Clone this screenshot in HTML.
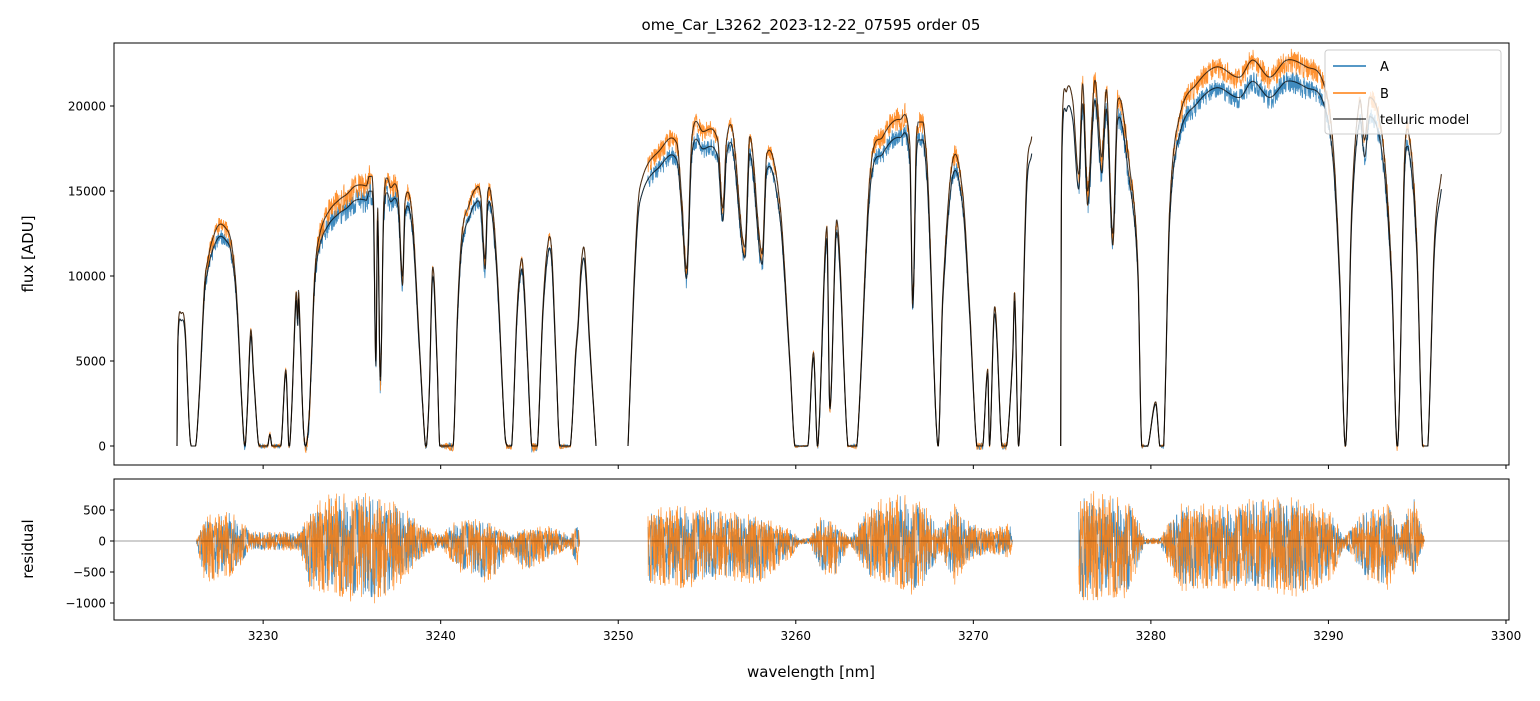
<!DOCTYPE html>
<html><head><meta charset="utf-8"><style>
body{margin:0;background:#fff;}
svg text{font-family:"DejaVu Sans","Liberation Sans",sans-serif;fill:#000;}
</style></head><body>
<svg id="chart" width="1540" height="696" xmlns="http://www.w3.org/2000/svg">
<defs>
<clipPath id="ctop"><rect x="114" y="43" width="1395" height="422"/></clipPath>
<clipPath id="cbot"><rect x="114" y="479" width="1395" height="141"/></clipPath>
</defs>
<rect width="1540" height="696" fill="#fff"/>
<text x="811" y="30" text-anchor="middle" font-size="15">ome_Car_L3262_2023-12-22_07595  order 05</text>
<g id="topPlot" clip-path="url(#ctop)"></g>
<g id="botPlot" clip-path="url(#cbot)"></g>
<g id="axes"></g>
<text transform="translate(33,254) rotate(-90)" text-anchor="middle" font-size="15">flux [ADU]</text>
<text transform="translate(33,549) rotate(-90)" text-anchor="middle" font-size="15">residual</text>
<text x="811" y="677" text-anchor="middle" font-size="15">wavelength [nm]</text>
<g>
<rect x="1325" y="50" width="176" height="84" rx="3" fill="#fff" fill-opacity="0.8" stroke="#ccc"/>
<line x1="1333" y1="66" x2="1366" y2="66" stroke="#1f77b4" stroke-width="1.5"/>
<text x="1380" y="71" font-size="13">A</text>
<line x1="1333" y1="93" x2="1366" y2="93" stroke="#ff7f0e" stroke-width="1.5"/>
<text x="1380" y="98" font-size="13">B</text>
<line x1="1333" y1="119" x2="1366" y2="119" stroke="#000" stroke-opacity="0.7" stroke-width="1.5"/>
<text x="1380" y="124" font-size="13">telluric model</text>
</g>
</svg>
<script>
const modelW = [3225.15,3225.2,3225.4,3225.6,3225.85,3225.95,3226.2,3226.4,3226.7,3226.9,3227.1,3227.5,3227.9,3228.2,3228.5,3228.85,3228.98,3229.1,3229.3,3229.45,3229.7,3229.8,3230.25,3230.38,3230.5,3231.0,3231.28,3231.45,3231.6,3231.85,3231.95,3232.0,3232.25,3232.4,3232.6,3232.9,3233.2,3233.7,3234.3,3234.7,3235.2,3235.8,3236.2,3236.35,3236.45,3236.6,3236.8,3237.2,3237.6,3237.85,3238.0,3238.4,3238.8,3239.1,3239.2,3239.35,3239.55,3239.8,3239.95,3240.7,3240.95,3241.2,3241.6,3241.95,3242.25,3242.5,3242.65,3242.9,3243.2,3243.6,3243.75,3244.0,3244.3,3244.55,3244.7,3244.9,3245.1,3245.2,3245.45,3245.75,3246.05,3246.25,3246.5,3246.7,3247.3,3247.6,3247.75,3247.9,3248.1,3248.4,3248.75,
null,
3250.55,3250.94,3251.22,3252.34,3253.3,3253.58,3253.86,3254.15,3254.76,3255.6,3255.89,3256.1,3256.45,3257.13,3257.41,3258.1,3258.37,3259.1,3259.67,3259.95,3260.68,3261.0,3261.24,3261.75,3261.92,3262.31,3262.93,3263.44,3264.17,3264.9,3265.86,3266.42,3266.59,3266.81,3267.38,3268.0,3268.28,3268.84,3269.4,3269.8,3270.19,3270.53,3270.81,3270.92,3271.2,3271.6,3271.88,3272.22,3272.33,3272.56,3273.0,3273.29,
null,
3274.92,3274.97,3275.26,3275.6,3275.94,3276.16,3276.44,3276.84,3277.23,3277.51,3277.85,3278.13,3278.8,3279.26,3279.48,3279.83,3280.27,3280.5,3280.72,3281.06,3281.62,3282.58,3283.7,3285.0,3285.73,3286.69,3287.65,3288.77,3289.67,3290.24,3290.63,3290.97,3291.31,3291.76,3292.04,3292.32,3293.05,3293.56,3293.9,3294.29,3294.58,3294.97,3295.3,3295.6,3295.97,3296.36];
const modelF = [0,6500,7800,7000,1000,0,0,3000,9500,11000,12000,13000,12800,12000,9000,1500,0,2000,6800,4500,500,0,0,700,0,0,4500,0,2000,9000,7500,9200,1500,0,2000,10000,12500,13800,14500,14800,15300,15300,15000,5000,14000,4000,14500,15200,14800,10000,14500,13500,6000,500,0,3000,10500,5000,0,0,8000,12500,14200,15100,14800,11000,14900,14300,10000,1000,0,0,8000,11000,9500,5000,300,0,0,8000,12000,11500,5000,0,0,5500,7500,10500,11500,6000,0,
null,
0,10900,15200,17400,17800,14500,10500,18200,18500,18000,14000,18000,18500,11700,18200,11300,17200,14300,5000,0,0,5500,0,12900,2300,13300,0,0,15800,18200,19200,17800,8600,18400,16800,0,9000,16800,14900,8000,0,0,4500,0,8200,0,0,5500,9000,0,15800,18200,
null,
0,17000,20900,20300,16000,21300,15000,21500,17000,20900,12500,20300,16400,10800,0,0,2600,0,0,14000,19400,21300,22300,21700,22700,21700,22700,22300,21500,18000,10200,0,14000,20300,18000,20500,18000,10200,0,17000,18000,12100,0,0,12100,16000];
const scaleA = 0.945;
const envW = [3226.22,3226.72,3228.13,3228.98,3229.26,3232.07,3232.64,3233.76,3235.45,3236.58,3237.70,3238.83,3239.96,3241.08,3242.77,3243.9,3244.74,3246.15,3247.28,3247.73,3247.84,
null,
3251.67,3253.47,3255.72,3257.97,3259.66,3260.23,3260.79,3261.35,3262.2,3263.04,3264.17,3265.86,3266.98,3268.11,3268.95,3269.8,3270.92,3272.05,3272.22,
null,
3275.93,3277.12,3278.81,3279.65,3280.5,3281.62,3283.87,3286.13,3288.38,3290.07,3290.92,3292.04,3293.45,3294.01,3294.85,3295.42];
const envHi = [0,400,500,300,150,150,500,800,800,700,600,300,100,400,300,100,200,250,100,300,0,null,500,600,500,400,200,50,50,400,300,50,600,800,700,200,600,300,200,300,0,null,800,800,700,50,50,600,600,700,700,500,100,500,600,200,800,0];
const envLo = [0,-700,-600,-300,-150,-150,-800,-900,-1000,-1000,-700,-300,-100,-500,-700,-200,-500,-300,-100,-500,0,null,-700,-800,-600,-700,-300,-50,-50,-500,-600,-50,-600,-800,-900,-200,-700,-300,-200,-300,0,null,-1000,-1000,-900,-50,-50,-800,-800,-800,-900,-700,-100,-600,-800,-200,-600,0];
const pattern = [0.3,-0.8,0.6,-0.2,0.9,-0.5,0.1,-1,0.7,-0.4,0.5,-0.9,0.2,-0.6,0.8,-0.3,0.4,-0.7,1,-0.1,0.55,-0.45,0.15,-0.85,0.05,-0.35,0.65,-0.15,0.25,-0.95,0.45,-0.25,0.85,-0.05,0.35,-0.65,0.12,-0.55,0.75,-0.75,0.22,-0.12,0.95,-0.4,0.18,-0.3,0.6,-0.9,0.08,-0.5,0.4,-0.2,0.7,-0.6,0.28,-0.08,0.5,-0.7,0.1,-0.45];
const xTicks = [3230,3240,3250,3260,3270,3280,3290,3300];
const yTicksTop = [0,5000,10000,15000,20000];
const yTicksBot = [-1000,-500,0,500];

const X0=3221.6, X1=3300.17, PX0=114, PX1=1509;
const xs = w => PX0 + (w-X0)/(X1-X0)*(PX1-PX0);
const yTop = f => 446 - f*0.017;
const yBot = r => 541 - r*0.062;
const NS="http://www.w3.org/2000/svg";
function segs(W,V){const out=[];let cur=[];for(let i=0;i<W.length;i++){if(W[i]===null){if(cur.length)out.push(cur);cur=[];}else cur.push([W[i],V[i]]);}if(cur.length)out.push(cur);return out;}
function interp(seg,w){if(w<=seg[0][0])return seg[0][1];for(let i=1;i<seg.length;i++){if(w<=seg[i][0]){const a=seg[i-1],b=seg[i];return a[1]+(b[1]-a[1])*(w-a[0])/(b[0]-a[0]);}}return seg[seg.length-1][1];}
function smooth(seg,w){
  if(w<=seg[0][0])return seg[0][1];
  for(let i=1;i<seg.length;i++){if(w<=seg[i][0]){
    const p1=seg[i-1],p2=seg[i],p0=seg[Math.max(0,i-2)],p3=seg[Math.min(seg.length-1,i+1)];
    const h=p2[0]-p1[0],t=(w-p1[0])/h;
    const m1=(p2[1]-p0[1])/Math.max(p2[0]-p0[0],1e-6)*h, m2=(p3[1]-p1[1])/Math.max(p3[0]-p1[0],1e-6)*h;
    const t2=t*t,t3=t2*t;
    let v=(2*t3-3*t2+1)*p1[1]+(t3-2*t2+t)*m1+(-2*t3+3*t2)*p2[1]+(t3-t2)*m2;
    const hi=Math.max(p1[1],p2[1])*1.03+100, lo=Math.min(p1[1],p2[1])>0?Math.min(p1[1],p2[1])*0.9:0;
    return Math.max(lo,Math.min(hi,v));}}
  return seg[seg.length-1][1];}
const mSegs=segs(modelW,modelF), hSegs=segs(envW,envHi), lSegs=segs(envW,envLo);
function env(w){for(let k=0;k<hSegs.length;k++){const s=hSegs[k];if(w>=s[0][0]&&w<=s[s.length-1][0])return [interp(s,w),interp(lSegs[k],w)];}return [0,0];}
function resid(w,i,off){const e=env(w);const idx=((i*i+i*13+off)%59+ (i%7))%pattern.length;const p=pattern[idx];return p>0?p*e[0]:-p*e[1];}
function addPath(g,d,color,width,op,name){const p=document.createElementNS(NS,'path');p.setAttribute('d',d);p.setAttribute('fill','none');p.setAttribute('stroke',color);p.setAttribute('stroke-width',width);p.setAttribute('stroke-opacity',op);p.setAttribute('stroke-linejoin','round');


g.appendChild(p);}
const topG=document.getElementById('topPlot'), botG=document.getElementById('botPlot');
const step=0.015;
const series=[{scale:scaleA,color:'#1f77b4',off:0,name:'a'},{scale:1,color:'#ff7f0e',off:17,name:'b'}];
series.forEach(s=>{let d='',dr='';mSegs.forEach(seg=>{let i=0;let first=true,firstR=true;for(let w=seg[0][0];w<=seg[seg.length-1][0];w+=step,i++){const m=smooth(seg,w)*s.scale;const r=resid(w,i,s.off)*(s.name==='a'?0.9:1);const f=m+r*0.9;d+=(first?'M':'L')+xs(w).toFixed(1)+' '+yTop(f).toFixed(1);first=false;const e=env(w);if(e[0]!==0||e[1]!==0){dr+=(firstR?'M':'L')+xs(w).toFixed(1)+' '+yBot(r).toFixed(1);firstR=false;}}});addPath(topG,d,s.color,0.8,0.85,'spectrum-'+s.name);addPath(botG,dr,s.color,0.7,0.85,'residual-'+s.name);});
[scaleA,1].forEach((sc,k)=>{let d='';mSegs.forEach(seg=>{let first=true;for(let w=seg[0][0];w<=seg[seg.length-1][0]+1e-9;w+=0.02){d+=(first?'M':'L')+xs(w).toFixed(1)+' '+yTop(smooth(seg,w)*sc).toFixed(1);first=false;}});addPath(topG,d,'#000',1.1,0.7,'telluric-model-'+(k?'b':'a'));});
const zl=document.createElementNS(NS,'line');zl.setAttribute('x1',114);zl.setAttribute('x2',1509);zl.setAttribute('y1',yBot(0));zl.setAttribute('y2',yBot(0));zl.setAttribute('stroke','#000');zl.setAttribute('stroke-opacity','0.5');zl.setAttribute('stroke-width','0.8');


botG.appendChild(zl);
const ax=document.getElementById('axes');
function el(tag,attrs,txt){const e=document.createElementNS(NS,tag);for(const k in attrs)e.setAttribute(k,attrs[k]);if(txt!==undefined)e.textContent=txt;ax.appendChild(e);return e;}
const f1=el('rect',{x:114,y:43,width:1395,height:422,fill:'none',stroke:'#000','stroke-width':1});


const f2=el('rect',{x:114,y:479,width:1395,height:141,fill:'none',stroke:'#000','stroke-width':1});


xTicks.forEach(t=>{const x=xs(t);el('line',{x1:x,x2:x,y1:465,y2:469,stroke:'#000'});el('line',{x1:x,x2:x,y1:620,y2:624,stroke:'#000'});const tl=el('text',{x:x,y:640,'text-anchor':'middle','font-size':12},String(t));

});
yTicksTop.forEach(t=>{const y=yTop(t);el('line',{x1:110,x2:114,y1:y,y2:y,stroke:'#000'});const tl=el('text',{x:106,y:y+4.5,'text-anchor':'end','font-size':12},String(t));

});
yTicksBot.forEach(t=>{const y=yBot(t);el('line',{x1:110,x2:114,y1:y,y2:y,stroke:'#000'});const tl=el('text',{x:106,y:y+4.5,'text-anchor':'end','font-size':12},(t<0?'\u2212'+(-t):String(t)));

});
</script>
</body></html>
